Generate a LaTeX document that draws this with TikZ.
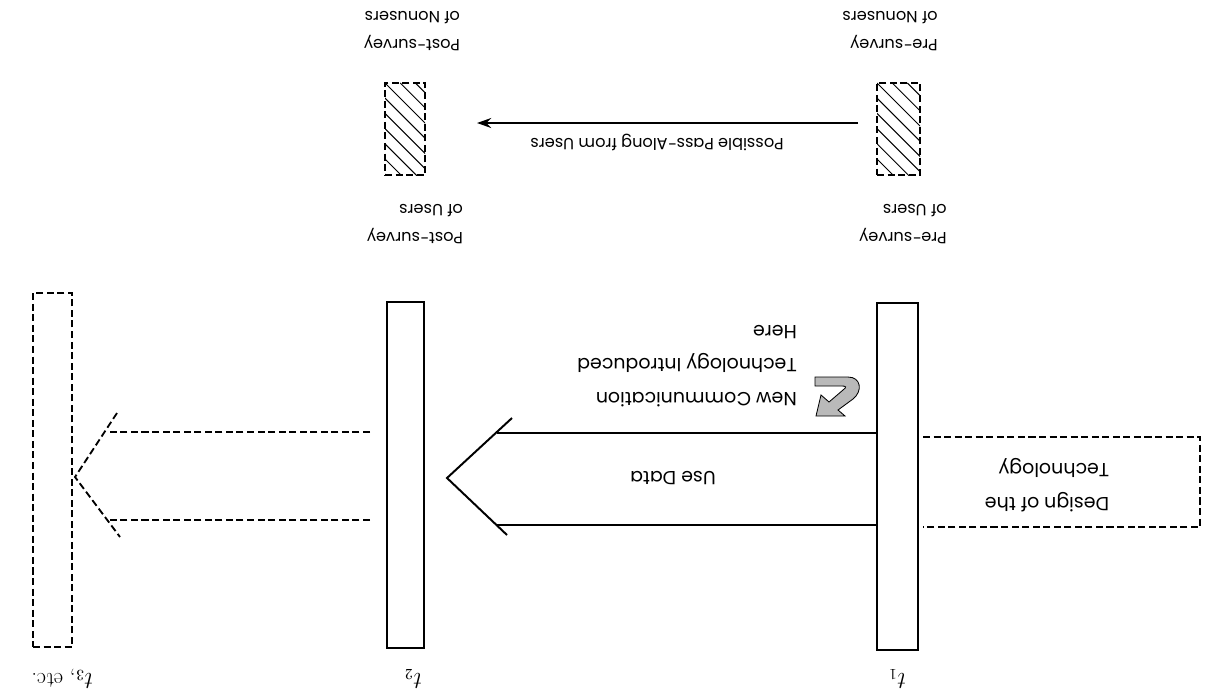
\documentclass[tikz,border=0pt]{standalone}
\usepackage{fontspec}
\newfontfamily\gfont{Poppins}
\usetikzlibrary{arrows.meta}
\begin{document}
\begin{tikzpicture}[x=0.025cm,y=-0.025cm,
  bar/.style={draw, line width=2pt, inner sep=0pt, outer sep=0pt},
  dbar/.style={draw, line width=1.5pt, dash pattern=on 5pt off 2.5pt, inner sep=0pt, outer sep=0pt},
  hatch/.style={draw, line width=1.3pt, dash pattern=on 5pt off 2.5pt, inner sep=0pt, outer sep=0pt,
    path picture={\foreach \i in {-8,...,4}{\draw[line width=0.7pt, solid] ([xshift=\i*0.38cm]path picture bounding box.north west) -- ++(4cm,-4cm);}}},
  lbl/.style={rotate=180, font=\gfont\fontsize{11.5}{20}\selectfont, align=left, inner sep=0pt},
  lblw/.style={rotate=180, font=\gfont\fontsize{13.5}{24}\selectfont, align=left, inner sep=0pt},
  tlbl/.style={rotate=180, font=\fontsize{16}{18}\selectfont, inner sep=0pt},
  uline/.style={line width=1.4pt},
  dline/.style={line width=1.3pt, dash pattern=on 5pt off 2.5pt},
  paline/.style={line width=1.6pt, -{Stealth[length=10pt,width=7pt]}}]
\useasboundingbox (0,0) rectangle (1207,692);
\fill[white] (0,0) rectangle (1207,692);

% time bars
\node[bar, minimum width=1.025cm, minimum height=8.675cm] (t1) at (897.5,476.5) {};
\node[bar, minimum width=0.925cm, minimum height=8.65cm] (t2) at (405.5,475) {};
\node[dbar, minimum width=0.975cm, minimum height=8.85cm] (t3) at (52.5,470) {};

\node[tlbl] (t1l) at (897,679) {$t_1$};
\node[tlbl] (t2l) at (413,679) {$t_2$};
\node[tlbl] (t3l) at (62,679) {$t_3$, etc.};

% nonuser survey boxes
\node[hatch, minimum width=1.075cm, minimum height=2.3cm] (preN) at (898.5,129) {};
\node[hatch, minimum width=1.0cm, minimum height=2.3cm] (postN) at (405,129) {};

\node[lbl] (preNt) at (890,31) {Pre-survey\\of Nonusers};
\node[lbl] (postNt) at (412,31) {Post-survey\\of Nonusers};
\node[lbl] (preUt) at (903,224) {Pre-survey\\of Users};
\node[lbl] (postUt) at (415,224) {Post-survey\\of Users};

% pass-along arrow
\coordinate (pa1) at (858,123);
\coordinate (pa2) at (477,123);
\draw[paline] (pa1) -- (pa2);
\node[lbl] (palbl) at (657,142) {Possible Pass-Along from Users};

% use data arrow
\coordinate (u1s) at (876,433);
\coordinate (u1e) at (497,433);
\coordinate (u2s) at (876,525);
\coordinate (u2e) at (497,525);
\coordinate (ua) at (512,418);
\coordinate (utip) at (447,478);
\coordinate (ub) at (507,535);
\draw[uline] (u1s) -- (u1e);
\draw[uline] (u2s) -- (u2e);
\draw[uline] (ua) -- (utip) -- (ub);
\node[lblw] (ud) at (673,478) {Use Data};

\node[lblw] (nct) at (687,366) {New Communication\\Technology Introduced\\Here};

% bent arrow icon
\filldraw[fill=gray!55, draw=black, line width=0.6pt]
  (815,377) -- (848,377) .. controls (861,377) and (863,391) .. (853,399)
  -- (838,410) -- (845,416) -- (816,416) -- (821,395) -- (829,402)
  -- (843,390) .. controls (847,387) and (846,386) .. (842,386) -- (815,386) -- cycle;

% design box
\coordinate (d1) at (923,437);
\coordinate (d2) at (1200,437);
\coordinate (d3) at (1200,527);
\coordinate (d4) at (923,527);
\draw[dline] (d1) -- (d2) -- (d3) -- (d4);
\node[lblw] (des) at (1047,485) {Design of the\\Technology};

% t3 arrow
\coordinate (v1s) at (370,432);
\coordinate (v1e) at (108,432);
\coordinate (v2s) at (370,520);
\coordinate (v2e) at (110,520);
\coordinate (va) at (117,413);
\coordinate (vtip) at (75,477);
\coordinate (vb) at (120,537);
\draw[dline] (v1s) -- (v1e);
\draw[dline] (v2s) -- (v2e);
\draw[dline] (va) -- (vtip) -- (vb);
\end{tikzpicture}
\end{document}
